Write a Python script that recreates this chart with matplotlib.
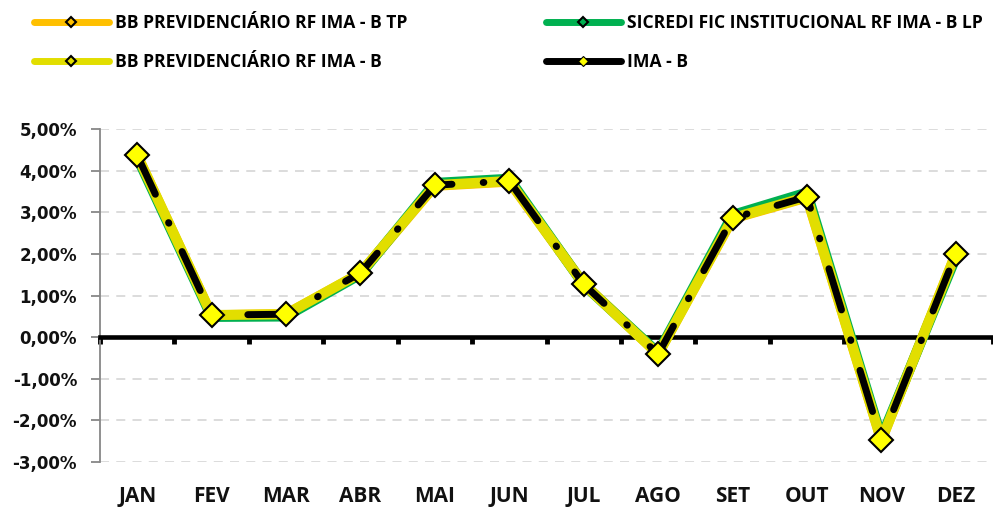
import matplotlib
matplotlib.use("Agg")
import matplotlib.pyplot as plt
from matplotlib.lines import Line2D
import numpy as np

plt.rcParams['font.family'] = ['Open Sans', 'DejaVu Sans']
plt.rcParams['font.weight'] = 'bold'

months = ["JAN", "FEV", "MAR", "ABR", "MAI", "JUN", "JUL", "AGO", "SET", "OUT", "NOV", "DEZ"]
bb_tp = [4.36, 0.52, 0.55, 1.53, 3.64, 3.74, 1.28, -0.40, 2.85, 3.36, -2.47, 1.99]
sicredi = [4.32, 0.49, 0.50, 1.51, 3.70, 3.80, 1.26, -0.38, 2.93, 3.47, -2.42, 1.92]
bb_imab = [4.37, 0.53, 0.55, 1.54, 3.65, 3.75, 1.27, -0.41, 2.86, 3.37, -2.48, 2.00]
ima_b = [4.37, 0.53, 0.55, 1.54, 3.65, 3.75, 1.27, -0.41, 2.86, 3.37, -2.48, 2.00]
yticks = [-3, -2, -1, 0, 1, 2, 3, 4, 5]

fig = plt.figure(figsize=(9.93, 5.08), dpi=100)
ax = fig.add_axes([100/993, (508-462)/508, 893/993, (462-129)/508])
x = np.arange(len(months))

c_or = "#FFC000"
c_gr = "#00B050"
c_ye = "#E2DE00"

ax.plot(x, bb_tp, color=c_or, lw=7.5, solid_capstyle='round', zorder=3)
ax.plot(x, sicredi, color=c_gr, lw=7.5, solid_capstyle='round', zorder=4)
ax.plot(x, bb_imab, color=c_ye, lw=7.3, solid_capstyle='round', zorder=5)
ax.plot(x, ima_b, color='black', lw=5.0, linestyle=(0, (6.2, 4.5, 0.1, 4.5)),
        dash_capstyle='round', zorder=6)
ax.plot(x, bb_imab, linestyle='none', marker='D', ms=12.5, mfc='#FFFF00', mec='black',
        mew=1.5, zorder=7)

ax.set_xlim(-0.5, 11.5)
ax.set_ylim(-3, 5)
ax.set_yticks(yticks)
ax.set_yticklabels([f"{v:.2f}%".replace('.', ',') for v in yticks], fontsize=12,
                   fontweight='bold', family=['DejaVu Sans'])
ax.grid(axis='y', color='#D9D9D9', lw=1.3, linestyle=(0, (5, 4)))
ax.set_axisbelow(True)

for s in ['top', 'right']:
    ax.spines[s].set_visible(False)
ax.spines['left'].set_color('#878787')
ax.spines['left'].set_linewidth(1.3)
ax.spines['bottom'].set_position(('data', 0))
ax.spines['bottom'].set_linewidth(3.3)
ax.spines['bottom'].set_color('black')
ax.spines['bottom'].set_zorder(2.5)
ax.tick_params(axis='y', colors='#878787', length=6.5, width=1.3, pad=10, labelcolor='#111111')
ax.set_xticks(np.arange(-0.5, 12, 1.0))
ax.set_xticklabels([])
ax.tick_params(axis='x', length=5, width=3.5, color='black', direction='out')

sec = ax.secondary_xaxis(0)
sec.set_xticks(x)
sec.set_xticklabels(months, fontsize=15, fontweight='bold', color='#111111')
sec.tick_params(length=0, pad=17)
sec.spines['bottom'].set_visible(False)

handles = [
    Line2D([], [], color=c_or, lw=5, solid_capstyle='round', marker='D', ms=5, mfc=c_or, mec='black', mew=1.5),
    Line2D([], [], color=c_ye, lw=5, solid_capstyle='round', marker='D', ms=5, mfc=c_ye, mec='black', mew=1.5),
    Line2D([], [], color=c_gr, lw=5, solid_capstyle='round', marker='D', ms=5, mfc=c_gr, mec='black', mew=1.5),
    Line2D([], [], color='black', lw=5, solid_capstyle='round', marker='D', ms=5, mfc='#FFFF00', mec='black', mew=0.8),
]
labels = ["BB PREVIDENCIÁRIO RF IMA - B TP", "BB PREVIDENCIÁRIO RF IMA - B",
          "SICREDI FIC INSTITUCIONAL RF IMA - B LP", "IMA - B"]
fig.legend(handles, labels, ncol=2, loc='upper left', bbox_to_anchor=(18/993, 1 + 2/508),
           frameon=False, prop={'size': 12.6, 'weight': 'bold'}, handlelength=4.3,
           handletextpad=0.35, columnspacing=7.9, labelspacing=1.2)

fig.savefig("out.png", dpi=100)
